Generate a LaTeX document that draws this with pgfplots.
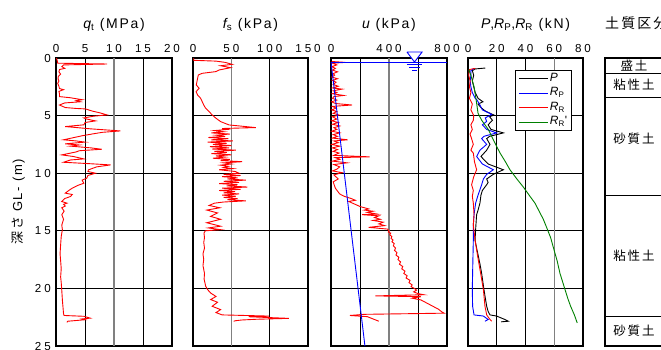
\documentclass[border=0pt]{standalone}
\usepackage{fontspec}
\setmainfont{Liberation Sans}
\newfontfamily\tickfont[LetterSpace=25]{Liberation Sans}
\newfontfamily\titfont[LetterSpace=12]{Liberation Sans}
\newfontfamily\jpfont[LetterSpace=15]{Noto Sans CJK JP}
\usepackage{pgfplots}
\pgfplotsset{compat=1.18}
\definecolor{rgreen}{RGB}{0,128,0}
\definecolor{ggray}{RGB}{128,128,128}
\pgfplotsset{
  every axis title shift=0pt,
  panel/.style={
    scale only axis, anchor=north west, height=288pt,
    y dir=reverse, ymin=0, ymax=25, ytick={0,5,10,15,20,25}, yticklabels={},
    ymajorgrids, xmajorgrids,
    major grid style={black, line width=0.8pt},
    axis line style={black, line width=2.2pt},
    major tick length=0pt, minor tick length=0pt,
    xticklabel pos=upper,
    /pgf/number format/assume math mode=true,
    tick label style={font=\tickfont\fontsize{11.6}{12}\selectfont},
    xticklabel style={anchor=south, inner sep=0pt, yshift=5.5pt},
    title style={at={(0.5,1.104)}, anchor=base, inner sep=0pt, font=\titfont\fontsize{14}{14}\selectfont},
    every axis plot/.append style={line width=0.9pt},
  },
  gline/.style={grid=major, major grid style={ggray, line width=1.3pt}},
}
\begin{document}
\begin{tikzpicture}
\useasboundingbox (0pt,0pt) rectangle (661pt,-349pt);
\clip (0pt,0pt) rectangle (661pt,-349pt);
% ---------------- qt
\begin{axis}[panel, at={(56pt,-58pt)}, width=116pt, xmin=0, xmax=20,
  xtick={0,5,15,20}, extra x ticks={10}, extra x tick style={gline},
  yticklabels={0,5,10,15,20,25},
  yticklabel style={anchor=east, inner sep=0pt, xshift=-5pt},
  ylabel={{\jpfont 深さ} GL- (m)},
  ylabel style={at={(-0.327,0.5)}, anchor=center, font=\titfont\fontsize{13}{13}\selectfont},
  title={{\itshape q}\textsubscript{t} (MPa)}]
\addplot[red] coordinates {
(0.1,0) (0.2,0.2) (0.3,0.45) (8.8,0.52) (1.3,0.6) (1.0,0.75) (1.5,0.9) (0.6,1.0) (0.5,1.2) (0.8,1.4) (0.4,1.6) (0.35,1.8) (0.5,2.0) (0.3,2.2) (0.5,2.45) (0.6,2.65) (1.3,2.75) (0.5,2.9) (0.6,3.1) (0.6,3.35) (2.5,3.45) (4.5,3.62) (3.5,3.7) (4.2,3.8) (1.5,3.9) (0.6,4.08) (1.6,4.3) (3.5,4.38) (5.1,4.42) (6.2,4.6) (7.5,4.75) (8.8,4.94) (6.5,5.05) (4.8,5.2) (5.3,5.3) (6.8,5.46) (5.0,5.6) (4.8,5.8) (1.6,5.95) (6,6.15) (11.1,6.33) (8,6.45) (6.2,6.6) (4.5,6.75) (1.3,7.1) (3.5,7.2) (5.0,7.3) (1.6,7.45) (4,7.55) (2.5,7.65) (6,7.8) (7.9,7.92) (4,8.05) (3.5,8.15) (1.0,8.41) (3,8.55) (4.8,8.76) (2.5,8.85) (1.3,9.05) (5,9.15) (9.4,9.28) (7,9.45) (5.6,9.71) (5.5,9.85) (6.8,10.0) (5.5,10.2) (5.3,10.43) (4.5,10.6) (4.8,10.87) (3.8,11.05) (2.8,11.3) (2.2,11.5) (1.6,11.73) (2.8,11.85) (2.5,12.02) (1.5,12.2) (1.0,12.46) (1.9,12.6) (1.3,12.7) (1.6,12.85) (1.0,13.0) (1.4,13.3) (1.0,13.6) (1.3,14.0) (1.0,14.5) (1.1,14.9) (0.9,15.5) (0.8,16.2) (0.7,17.0) (0.8,17.6) (0.9,18.3) (0.8,19.0) (0.9,19.5) (1.0,20.2) (1.1,21.0) (1.2,21.6) (1.3,22.2) (1.4,22.35) (4.8,22.42) (5.9,22.58) (4.5,22.65) (5.0,22.72) (2.0,22.85) (1.9,22.95)};
\end{axis}
% ---------------- fs
\begin{axis}[panel, at={(193pt,-58pt)}, width=115pt, xmin=0, xmax=150,
  xtick={0,100,150}, extra x ticks={50}, extra x tick style={gline},
  title={{\itshape f}\textsubscript{s} (kPa)}]
\addplot[red] coordinates {
(1,0) (1,0.2) (30,0.27) (42,0.38) (51,0.55) (36,0.67) (49,0.84) (34,1.04) (30,1.18) (12,1.33) (7,1.47) (6,1.76) (4.3,2.34) (8,2.63) (4,2.92) (6,3.21) (10,3.5) (12,3.79) (14,4.08) (16.5,4.36) (21,4.65) (25,4.94) (30,5.23) (36,5.52) (47,5.81) (82,6.04) (38,6.12) (45,6.2) (28,6.3) (40,6.4) (24,6.5) (48,6.6) (30,6.7) (42,6.8) (20,6.9) (46,7.0) (24,7.1) (52,7.2) (19,7.3) (44,7.4) (26,7.5) (50,7.6) (22,7.7) (47,7.8) (25,7.9) (56,8.0) (28,8.1) (44,8.2) (24,8.3) (50,8.4) (30,8.5) (42,8.6) (26,8.7) (48,8.8) (36,8.9) (64,9.0) (40,9.1) (50,9.2) (36,9.3) (46,9.4) (40,9.5) (52,9.6) (34,9.7) (55,9.85) (60,10.0) (40,10.1) (62,10.2) (38,10.3) (58,10.4) (45,10.5) (69,10.6) (40,10.7) (60,10.8) (34,10.9) (58,11.0) (44,11.1) (71,11.2) (38,11.3) (62,11.4) (34,11.5) (55,11.6) (40,11.7) (60,11.8) (38,11.9) (56,12.0) (40,12.1) (58,12.2) (45,12.3) (69,12.4) (40,12.5) (28,12.6) (21,12.8) (35,13.0) (18,13.2) (32,13.45) (23,13.75) (36,14.0) (18,14.3) (36,14.6) (20,14.75) (36,14.9) (16,15.0) (14.3,15.2) (15,15.6) (14,16.0) (15,16.5) (13,17.0) (14,17.5) (13,18.0) (15,18.7) (14.5,19.2) (16.5,19.8) (19,20.1) (23,20.4) (30,20.7) (23,20.97) (32,21.2) (25,21.55) (36,21.84) (30,22.1) (38,22.3) (99,22.4) (73,22.46) (99,22.53) (125,22.6) (82,22.68) (64,22.74) (56,22.8) (53,22.85)};
\end{axis}
% ---------------- u
\begin{axis}[panel, at={(331pt,-58pt)}, width=116pt, xmin=0, xmax=800, clip=false,
  xtick={0,200,600,800}, xticklabels={0,,,800},
  extra x ticks={400}, extra x tick style={gline},
  title={{\itshape u} (kPa)}]
\addplot[red] coordinates {
(5,0.3) (99,0.38) (10,0.45) (40,0.6) (5,0.75) (30,0.9) (10,1.05) (45,1.2) (15,1.35) (25,1.5) (5,1.65) (45,1.8) (10,1.95) (35,2.1) (15,2.3) (50,2.45) (10,2.6) (76,2.7) (15,2.85) (40,3.0) (10,3.1) (87,3.25) (20,3.35) (10,3.5) (40,3.65) (5,3.8) (30,3.95) (145,4.08) (10,4.2) (35,4.35) (5,4.5) (40,4.65) (15,4.8) (55,4.95) (10,5.1) (40,5.3) (5,5.45) (50,5.6) (10,5.75) (60,5.9) (20,6.05) (40,6.2) (5,6.35) (60,6.5) (15,6.65) (45,6.8) (10,6.95) (115,7.1) (20,7.2) (50,7.35) (5,7.5) (60,7.65) (10,7.8) (45,7.95) (15,8.1) (55,8.25) (20,8.45) (267,8.58) (30,8.65) (60,8.8) (10,8.95) (110,9.1) (20,9.25) (60,9.45) (40,9.65) (10,9.8) (75,9.95) (20,10.15) (50,10.5) (15,10.75) (30,11.3) (60,11.8) (90,12.0) (140,12.2) (168,12.35) (122,12.45) (202,12.9) (260,13.1) (230,13.2) (290,13.3) (250,13.4) (320,13.55) (215,13.6) (330,13.7) (300,13.85) (340,14.0) (290,14.1) (360,14.25) (330,14.4) (370,14.55) (260,14.7) (390,14.85) (400,15.0) (395,15.1) (412,15.2) (405,15.35) (420,15.5) (414,15.65) (428,15.8) (420,15.95) (436,16.1) (430,16.3) (445,16.5) (438,16.7) (455,16.9) (448,17.1) (468,17.3) (462,17.5) (480,17.7) (472,17.9) (495,18.1) (488,18.3) (510,18.5) (502,18.7) (525,18.9) (518,19.1) (545,19.3) (538,19.5) (560,19.7) (552,19.85) (575,20.0) (590,20.15) (570,20.3) (600,20.45) (640,20.55) (306,20.65) (620,20.72) (560,20.85) (620,21.0) (680,21.4) (740,21.8) (766,22.05) (780,22.15) (230,22.25) (130,22.35) (250,22.45) (330,22.85)};
\addplot[blue] coordinates {(0,0.35) (234,25)};
\addplot[blue] coordinates {(0,0.35) (800,0.35)};
\addplot[blue, fill=white] coordinates {(524,-0.52) (628,-0.52) (576,0.35) (524,-0.52)};
\addplot[blue] coordinates {(524,0.55) (628,0.55)};
\addplot[blue] coordinates {(541,0.8) (611,0.8)};
\addplot[blue] coordinates {(562,1.08) (590,1.08)};
\end{axis}
% ---------------- P, RP, RR
\begin{axis}[panel, at={(468pt,-58pt)}, width=115pt, xmin=0, xmax=80,
  xtick={0,20,40,80}, extra x ticks={60}, extra x tick style={gline},
  title={{\itshape P},{\itshape R}\textsubscript{P},{\itshape R}\textsubscript{R} (kN)},
  legend cell align=left,
  legend style={at={(1,1)}, anchor=north east, xshift=-11pt, yshift=-12pt,
    draw=black, line width=0.8pt, inner xsep=3pt, inner ysep=1pt, font=\titfont\fontsize{12}{12}\selectfont,
    nodes={inner sep=1.5pt, text height=8.5pt, text depth=3pt}},
  legend image code/.code={\path (0pt,0pt) -- (29pt,0pt); \draw[#1, line width=1pt] (3pt,0pt) -- (26pt,0pt);}]
\addplot[black] coordinates {
(12,0.87) (5,0.95) (3,1.1) (4,1.5) (3,2.0) (4,2.5) (5,3.0) (7,3.5) (10.4,3.8) (7,4.0) (9,4.3) (12,4.6) (18,4.95) (15,5.1) (17,5.4) (14,5.8) (16,6.2) (24.6,6.5) (15,6.8) (13,7.0) (15.3,7.5) (13,8.0) (9,8.55) (14,9.2) (24.6,9.7) (17.6,10.1) (13,10.5) (14,10.8) (13,11.0) (10,11.5) (9,11.9) (8.3,12.6) (7,13.2) (6,13.6) (5.5,14.5) (4.9,15.8) (6,16.5) (7.2,17.2) (8.5,18.0) (9.5,18.7) (11.1,20.1) (12,20.8) (13,21.55) (14,22.0) (15.3,22.3) (19.9,22.4) (25.7,22.7) (28,22.85) (23,22.9)};
\addlegendentry{{\itshape P}}
\addplot[blue] coordinates {
(4,0.9) (2,1.1) (2,1.5) (1.5,2.0) (2,2.5) (3,3.0) (5,3.5) (6,3.6) (8,4.0) (10,4.5) (16.5,4.9) (12,5.2) (13,5.5) (10,5.8) (13,6.2) (19.9,6.5) (11,6.8) (9.5,7.0) (13,7.5) (8.3,8.0) (6,8.55) (10,9.2) (17.6,9.7) (13,10.1) (10.7,10.5) (9.5,11.0) (7,11.9) (5.3,12.6) (4.2,13.6) (3.7,14.5) (3.7,15.8) (3.2,18.7) (3.0,20.1) (3.2,21.55) (4.2,22.3) (10.7,22.4) (14,22.7) (11.8,22.85)};
\addlegendentry{{\itshape R}\textsubscript{P}}
\addplot[red] coordinates {
(5,0.9) (1,1.0) (0.5,1.5) (1.5,2.0) (1,2.5) (2,3.0) (1,3.5) (3,4.0) (2,4.5) (4,5.0) (3.7,5.4) (2,5.8) (3,6.2) (1.4,6.6) (2.5,7.0) (3.7,7.5) (2,8.0) (3.7,8.25) (4.5,9.0) (6,9.7) (4,10.3) (2.5,11.0) (3.7,11.5) (3,12.0) (3.7,12.6) (4.2,13.6) (3.7,14.5) (4.9,15.8) (6.7,17.2) (8.8,18.7) (10.7,20.1) (11.8,21.55) (13,22.3) (15.3,22.7) (16.5,22.85)};
\addlegendentry{{\itshape R}\textsubscript{R}}
\addplot[rgreen] coordinates {
(0.5,1.0) (2,1.5) (4.2,2.5) (5.5,3.5) (7,4.8) (9.5,5.4) (14.1,6.2) (18,7.2) (22.3,8.25) (26,9.0) (29.2,9.7) (34,10.5) (38.5,11.2) (42.5,11.9) (46.6,12.6) (49.5,13.3) (52.4,14.0) (55,14.8) (57.5,15.6) (59.5,16.5) (62,17.6) (64,18.7) (66,19.5) (67.5,20.1) (69.5,20.9) (71.4,21.55) (74,22.3) (76,23.0)};
\addlegendentry{{\itshape R}\textsubscript{R}'}
\end{axis}
% ---------------- soil column
\begin{axis}[scale only axis, anchor=north west, at={(605pt,-58pt)}, width=58pt, height=288pt,
  xmin=0, xmax=1, ymin=0, ymax=25, y dir=reverse, xtick=\empty, ytick=\empty,
  axis line style={black, line width=2.2pt},
  title={土質区分},
  title style={at={(0,1.104)}, anchor=base west, inner sep=0pt, font=\jpfont\fontsize{14}{14}\selectfont}]
\addplot[black, line width=0.9pt] coordinates {(0,1.3) (1,1.3)};
\addplot[black, line width=0.9pt] coordinates {(0,3.4) (1,3.4)};
\addplot[black, line width=0.9pt] coordinates {(0,11.9) (1,11.9)};
\addplot[black, line width=0.9pt] coordinates {(0,22.4) (1,22.4)};
\node[font=\jpfont\fontsize{12.5}{12.5}\selectfont] at (axis cs:0.5,0.62) {盛土};
\node[font=\jpfont\fontsize{12.5}{12.5}\selectfont] at (axis cs:0.5,2.35) {粘性土};
\node[font=\jpfont\fontsize{12.5}{12.5}\selectfont] at (axis cs:0.5,7.0) {砂質土};
\node[font=\jpfont\fontsize{12.5}{12.5}\selectfont] at (axis cs:0.5,17.2) {粘性土};
\node[font=\jpfont\fontsize{12.5}{12.5}\selectfont] at (axis cs:0.5,23.7) {砂質土};
\end{axis}
\end{tikzpicture}
\end{document}
